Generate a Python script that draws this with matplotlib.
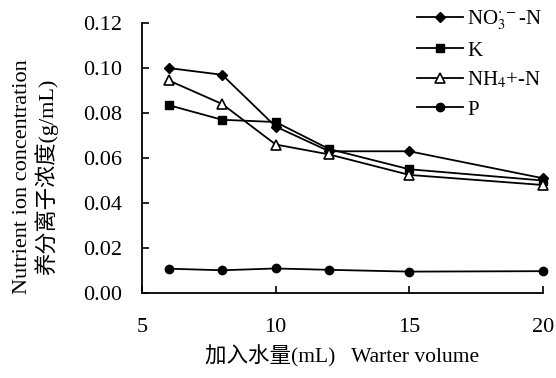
import numpy as np
import matplotlib.pyplot as plt

# water volume added (mL)
water = [6, 8, 10, 12, 15, 20]

no3 = [0.100, 0.097, 0.074, 0.063, 0.063, 0.051]
k = [0.0835, 0.077, 0.076, 0.064, 0.055, 0.050]
nh4 = [0.0945, 0.084, 0.066, 0.0616, 0.0525, 0.048]
p = [0.0108, 0.0101, 0.0109, 0.0103, 0.0095, 0.0097]

labels = [r"NO$_3^{\cdot\,-}$-N", "K", r"NH$_4$+-N", "P"]
xticks = [5, 10, 15, 20]
yticks = [0.00, 0.02, 0.04, 0.06, 0.08, 0.10, 0.12]

plt.rcParams['font.family'] = ['Liberation Serif', 'Noto Sans CJK SC']
plt.rcParams['mathtext.fontset'] = 'stix'
plt.rcParams['font.size'] = 15

fig = plt.figure(figsize=(5.56, 3.78), dpi=100)
ax = fig.add_axes([0.2554, 0.2249, 0.9766 - 0.2554, 0.939 - 0.2249])

lw = 1.3
ax.plot(water, no3, color="black", lw=lw, marker="D", markersize=5, label=labels[0], clip_on=False)
ax.plot(water, k, color="black", lw=lw, marker="s", markersize=6, label=labels[1], clip_on=False)
ax.plot(water, nh4, color="black", lw=lw, marker="^", markersize=7, markerfacecolor="white",
        markeredgewidth=1.2, label=labels[2], clip_on=False)
ax.plot(water, p, color="black", lw=lw, marker="o", markersize=6, label=labels[3], clip_on=False)

ax.set_xlim(5, 20)
ax.set_ylim(0, 0.12)
ax.set_xticks(xticks)
ax.set_yticks(yticks)
ax.set_yticklabels([f"{v:.2f}" for v in yticks])
ax.spines["top"].set_visible(False)
ax.spines["right"].set_visible(False)
ax.spines["left"].set_linewidth(1.3)
ax.spines["bottom"].set_linewidth(1.3)
ax.tick_params(axis="both", direction="in", length=5, width=1.2, labelsize=16)
ax.tick_params(axis="y", pad=14)
ax.tick_params(axis="x", pad=18)

ax.set_ylabel("Nutrient ion concentration\n养分离子浓度(g/mL)", fontsize=16, linespacing=1.1)
ax.yaxis.set_label_coords(-0.21, 0.43)
ax.set_xlabel("加入水量(mL)   Warter volume", fontsize=15.5, labelpad=6)

ax.legend(loc="upper left", bbox_to_anchor=(0.735, 1.0), bbox_transform=fig.transFigure,
          frameon=False, fontsize=15, handlelength=2.2, labelspacing=0.45, handletextpad=0.2,
          borderaxespad=0)

fig.savefig("out.png", dpi=100)
